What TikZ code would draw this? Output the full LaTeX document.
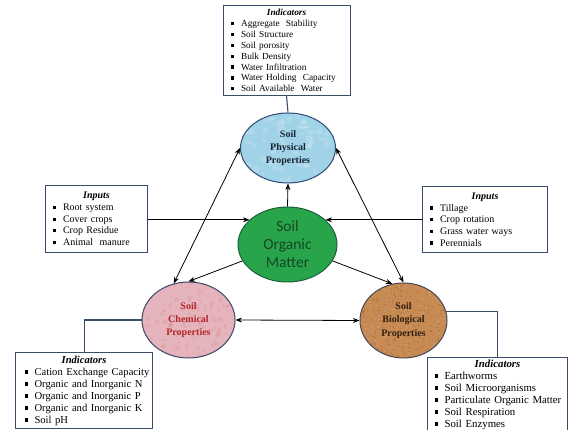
\documentclass[tikz,border=0pt]{standalone}
\usepackage{fontspec}
\setmainfont{Liberation Serif}
\newfontfamily\somfont{Carlito}
\usetikzlibrary{shapes.geometric,arrows.meta}
\definecolor{boxline}{RGB}{58,78,108}
\definecolor{physfill}{RGB}{160,210,232}
\definecolor{physline}{RGB}{45,75,115}
\definecolor{phystext}{RGB}{25,35,50}
\definecolor{somfill}{RGB}{40,165,75}
\definecolor{somline}{RGB}{30,95,60}
\definecolor{somtext}{RGB}{22,70,38}
\definecolor{chemfill}{RGB}{229,180,188}
\definecolor{chemline}{RGB}{60,70,105}
\definecolor{chemtext}{RGB}{178,38,42}
\definecolor{biofill}{RGB}{198,138,82}
\definecolor{bioline}{RGB}{70,70,85}
\definecolor{biotext}{RGB}{50,32,18}
\newcommand{\bul}{\makebox[10pt][l]{\rule[0.15em]{3.2pt}{3.2pt}}}
\newcommand{\itm}[1]{\par\noindent\bul\mbox{#1}}
\newcommand{\hd}[1]{\noindent\makebox[\hsize]{\textbf{\textit{#1}}}}
\tikzset{
  ind/.style={draw=boxline, line width=1.1pt, fill=white, anchor=north west,
    align=left, inner ysep=0pt},
  prop/.style={ellipse, draw=#1line, fill=#1fill, text=#1text, line width=1pt,
    align=center, inner sep=0pt, font=\fontsize{10}{13.2}\selectfont\bfseries},
  bubbles/.style={path picture={\foreach \k in {1,...,70}
    \fill[white,opacity=0.16] ([shift={(rnd*100-50,rnd*76-38)}]path picture bounding box.center)
      ellipse ({2pt+rnd*3pt} and {1.5pt+rnd*2pt});}},
  mottle/.style={path picture={\foreach \k in {1,...,160}
    \fill[chemtext,opacity=0.07] ([shift={(rnd*100-50,rnd*80-40)}]path picture bounding box.center)
      circle ({0.8pt+rnd*1.5pt});}},
  speckle/.style={path picture={\foreach \k in {1,...,260}
    {\fill[biotext,opacity=0.3] ([shift={(rnd*92-46,rnd*80-40)}]path picture bounding box.center)
      circle (0.6pt);
     \fill[white,opacity=0.2] ([shift={(rnd*92-46,rnd*80-40)}]path picture bounding box.center)
      circle (0.7pt);}}},
  link/.style={line width=0.8pt, -{Stealth[length=6.5pt,width=5pt]}},
  both/.style={line width=0.8pt, {Stealth[length=6.5pt,width=5pt]}-{Stealth[length=6.5pt,width=5pt]}},
  plain/.style={draw=boxline, line width=1.1pt}
}
\begin{document}
\begin{tikzpicture}[x=1pt,y=-1pt]
\pgfmathsetseed{7}
\useasboundingbox[fill=white] (0,0) rectangle (571,430);

\node[ind, inner xsep=8pt, text width=111pt, minimum height=90pt,
  font=\fontsize{9.3}{10.9}\selectfont] (topbox) at (222.5,5) {\hd{Indicators}
  \itm{Aggregate\ \ Stability}\itm{Soil Structure}\itm{Soil porosity}\itm{Bulk Density}
  \itm{Water Infiltration}\itm{Water Holding\ \ Capacity}\itm{Soil Available\ \ Water}};
\node[ind, inner xsep=7.5pt, text width=87pt, minimum height=67pt,
  font=\fontsize{10}{11.7}\selectfont] (inl) at (45,185) {\hd{Inputs}
  \itm{Root system}\itm{Cover crops}\itm{Crop Residue}\itm{Animal\ \ manure}};
\node[ind, inner xsep=7.5pt, text width=110pt, minimum height=66pt,
  font=\fontsize{10}{11.7}\selectfont] (inr) at (422,186) {\hd{Inputs}
  \itm{Tillage}\itm{Crop rotation}\itm{Grass water ways}\itm{Perennials}};
\node[ind, inner xsep=9pt, text width=119pt, minimum height=76pt,
  font=\fontsize{10.6}{12}\selectfont] (chembox) at (15,352) {\hd{Indicators}
  \itm{Cation Exchange Capacity}\itm{Organic and Inorganic N}\itm{Organic and Inorganic P}
  \itm{Organic and Inorganic K}\itm{Soil pH}};
\node[ind, inner xsep=7pt, text width=126pt, minimum height=74pt,
  font=\fontsize{10.8}{12}\selectfont] (biobox) at (427,357) {\hd{Indicators}
  \itm{Earthworms}\itm{Soil Microorganisms}\itm{Particulate Organic Matter}
  \itm{Soil Respiration}\itm{Soil Enzymes}};

\node[prop=phys, bubbles, minimum width=95pt, minimum height=70pt] (phys) at (288,148)
  {Soil\\Physical\\Properties};
\node[prop=chem, mottle, minimum width=93pt, minimum height=76pt] (chem) at (188.5,320)
  {Soil\\Chemical\\Properties};
\node[prop=bio, speckle, minimum width=87pt, minimum height=75pt] (bio) at (403.5,320.5)
  {Soil\\Biological\\Properties};
\node[prop=som, minimum width=99pt, minimum height=75pt,
  font=\somfont\fontsize{15.5}{18}\selectfont] (som) at (287.5,244.5) {Soil\\Organic\\Matter};

\draw[plain] (topbox.south) -- (phys.north);
\draw[plain] (chem.west) -| (chembox.north);
\draw[plain] (bio.12) -| (biobox.north);

\draw[link] (som.north) -- (phys.south);
\draw[link] (inl.east |- som.147) -- (som.147);
\draw[link] (inr.west |- som.33) -- (som.33);
\draw[link] (som.200) -- (chem.north);
\draw[link] (som.340) -- (bio.107);
\draw[both] (chem.112) -- (phys.west);
\draw[both] (bio.north) -- (phys.east);
\draw[both] (chem.east) -- (bio.west);
\end{tikzpicture}
\end{document}
